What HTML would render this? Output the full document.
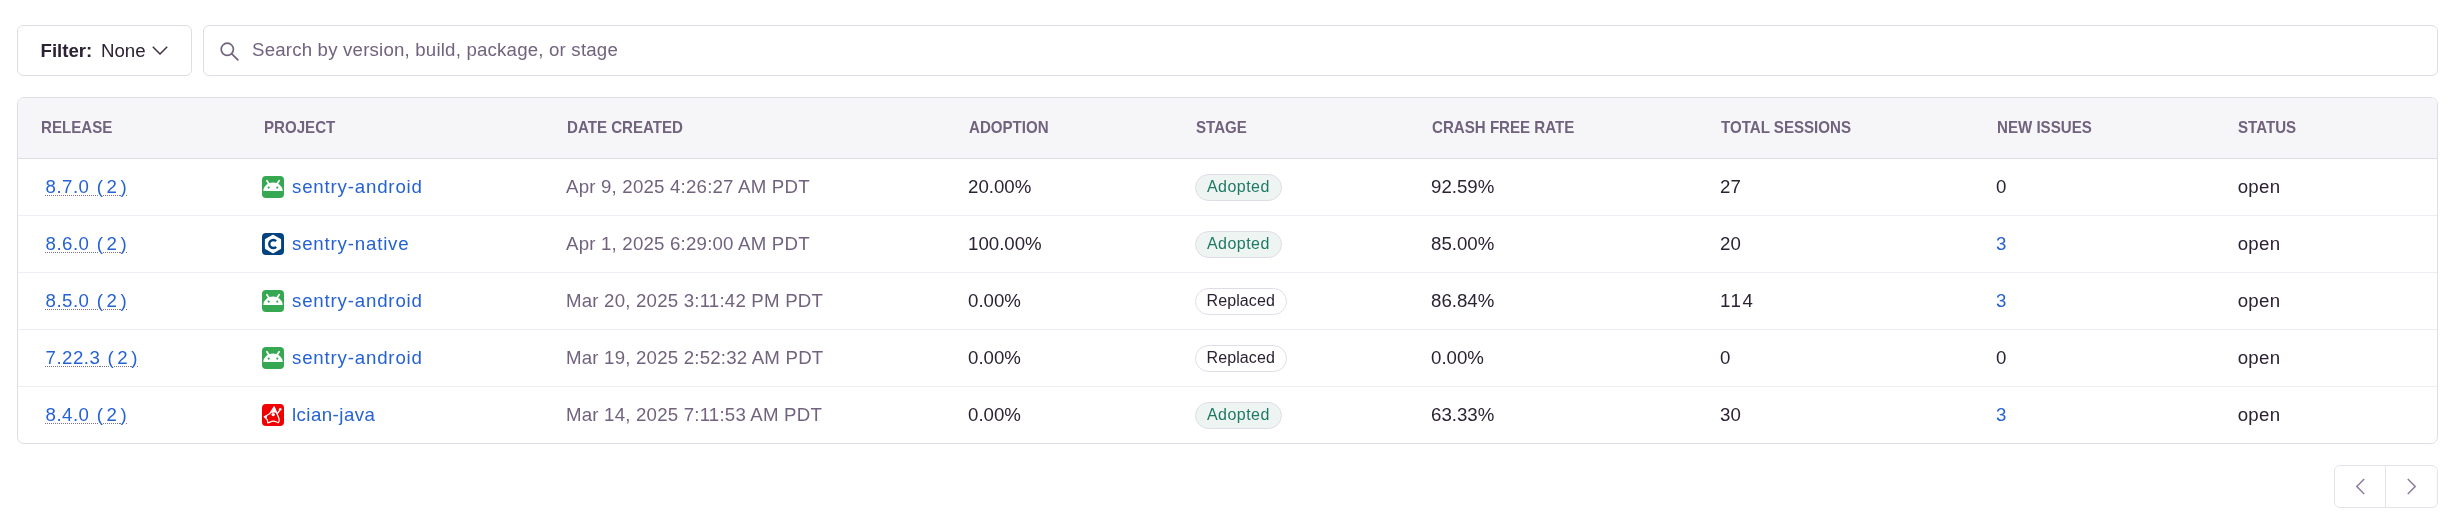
<!DOCTYPE html>
<html>
<head>
<meta charset="utf-8">
<style>
html,body{margin:0;padding:0;background:#fff;}
body{width:2460px;height:532px;position:relative;overflow:hidden;font-family:"Liberation Sans",sans-serif;color:#2B2233;}
#wrap{position:absolute;left:0;top:0;width:2460px;height:532px;will-change:transform;}
.abs{position:absolute;white-space:nowrap;}
.t{position:absolute;white-space:nowrap;font-size:18.67px;line-height:18.67px;}
.btn{position:absolute;box-sizing:border-box;border:1px solid #E0DCE5;border-radius:6px;background:#fff;}
.panel{position:absolute;left:17px;top:97px;width:2421px;height:347px;box-sizing:border-box;border:1px solid #E0DCE5;border-radius:7px;overflow:hidden;}
.hdr{position:absolute;left:0;top:0;right:0;height:60px;background:#F6F5F8;border-bottom:1px solid #E0DCE5;}
.h{position:absolute;top:21px;font-size:16.5px;line-height:16.5px;font-weight:700;color:#71637E;white-space:nowrap;transform:scaleX(0.915);transform-origin:0 0;}
.sep{position:absolute;left:0;right:0;height:1px;background:#F0ECF3;}
.link{color:#2562D4;}
.sub{color:#71637E;}
.badge{position:absolute;box-sizing:border-box;height:27px;border-radius:14px;border:1px solid #E0DCE5;font-size:16px;line-height:25px;white-space:nowrap;}
.ico{position:absolute;width:22px;height:22px;border-radius:4px;}
.rel{text-decoration:underline dotted #80708F;text-underline-offset:2px;text-decoration-thickness:1px;}
.adopted{background:#EDF4F1;color:#207964;}
.replaced{background:#fff;color:#2B2233;}
</style>
</head>
<body>
<div id="wrap">
<!-- Filter button -->
<div class="btn" style="left:17px;top:25px;width:175px;height:51px;"></div>
<div class="t" style="left:40.5px;top:41.8px;font-weight:700;">Filter:</div>
<div class="t" style="left:101px;top:41.8px;">None</div>
<svg class="abs" style="left:152px;top:46px" width="16" height="9" viewBox="0 0 16 9"><path d="M0.8 0.8 L8 8 L15.2 0.8" fill="none" stroke="#3E3446" stroke-width="1.5"/></svg>

<!-- Search -->
<div class="btn" style="left:203px;top:25px;width:2235px;height:51px;"></div>
<svg class="abs" style="left:220px;top:42px" width="19" height="19" viewBox="0 0 19 19"><circle cx="7.3" cy="7.3" r="6.1" fill="none" stroke="#71637E" stroke-width="1.7"/><path d="M11.8 11.8 L17.8 17.8" stroke="#71637E" stroke-width="1.7" stroke-linecap="round"/></svg>
<div class="t sub" style="left:252px;top:40.9px;letter-spacing:0.19px;">Search by version, build, package, or stage</div>

<!-- Panel -->
<div class="panel">
  <div class="hdr">
    <div class="h" style="left:23px">RELEASE</div>
    <div class="h" style="left:246px">PROJECT</div>
    <div class="h" style="left:549px">DATE CREATED</div>
    <div class="h" style="left:951px">ADOPTION</div>
    <div class="h" style="left:1178px">STAGE</div>
    <div class="h" style="left:1414px">CRASH FREE RATE</div>
    <div class="h" style="left:1703px">TOTAL SESSIONS</div>
    <div class="h" style="left:1979px">NEW ISSUES</div>
    <div class="h" style="left:2220px">STATUS</div>
  </div>
  <div class="sep" style="top:117px"></div>
  <div class="sep" style="top:174px"></div>
  <div class="sep" style="top:231px"></div>
  <div class="sep" style="top:288px"></div>
</div>

<div class="t link rel" style="left:45.5px;top:178.00px;"><span style="letter-spacing:0.5px">8.7.0</span><span style="letter-spacing:3.6px;word-spacing:-1.6px"> (2</span><span style="letter-spacing:2.2px">)</span></div>
<svg class="abs" style="left:262px;top:176px" width="22" height="22" viewBox="0 0 22 22"><rect width="22" height="22" rx="4" fill="#36A852"/><path d="M1.3 15 A9.7 8.4 0 0 1 20.7 15 Z" fill="#fff"/><path d="M4.9 4.7 L7.4 8.8 M17.1 4.7 L14.6 8.8" stroke="#fff" stroke-width="1.7" stroke-linecap="round"/><circle cx="6.7" cy="11.6" r="1.1" fill="#36A852"/><circle cx="15.3" cy="11.6" r="1.1" fill="#36A852"/></svg><div class="t link" style="left:292px;top:178.00px;letter-spacing:0.82px">sentry-android</div>
<div class="t sub" style="left:566px;top:178.00px;letter-spacing:0.2px">Apr 9, 2025 4:26:27 AM PDT</div>
<div class="t " style="left:968px;top:178.00px;">20.00%</div>
<div class="badge adopted" style="left:1195px;top:174px;width:87px;"><span style="position:absolute;left:11px;top:-1px;letter-spacing:0.45px">Adopted</span></div>
<div class="t " style="left:1431px;top:178.00px;">92.59%</div>
<div class="t " style="left:1720px;top:178.00px;">27</div>
<div class="t " style="left:1996px;top:178.00px;">0</div>
<div class="t " style="left:2237.7px;top:178.00px;letter-spacing:0.3px">open</div>
<div class="t link rel" style="left:45.5px;top:235.00px;"><span style="letter-spacing:0.5px">8.6.0</span><span style="letter-spacing:3.6px;word-spacing:-1.6px"> (2</span><span style="letter-spacing:2.2px">)</span></div>
<svg class="abs" style="left:262px;top:233px" width="22" height="22" viewBox="0 0 22 22"><rect width="22" height="22" rx="4" fill="#00427F"/><path d="M11 2.4 L18.4 6.7 L18.4 15.3 L11 19.6 L3.6 15.3 L3.6 6.7 Z" fill="#fff" stroke="#fff" stroke-width="1.4" stroke-linejoin="round"/><path d="M14.1 8.2 A4 4 0 1 0 14.1 13.8" fill="none" stroke="#00427F" stroke-width="2.4"/></svg><div class="t link" style="left:292px;top:235.00px;letter-spacing:0.82px">sentry-native</div>
<div class="t sub" style="left:566px;top:235.00px;letter-spacing:0.2px">Apr 1, 2025 6:29:00 AM PDT</div>
<div class="t " style="left:968px;top:235.00px;">100.00%</div>
<div class="badge adopted" style="left:1195px;top:231px;width:87px;"><span style="position:absolute;left:11px;top:-1px;letter-spacing:0.45px">Adopted</span></div>
<div class="t " style="left:1431px;top:235.00px;">85.00%</div>
<div class="t " style="left:1720px;top:235.00px;">20</div>
<div class="t link" style="left:1996px;top:235.00px;">3</div>
<div class="t " style="left:2237.7px;top:235.00px;letter-spacing:0.3px">open</div>
<div class="t link rel" style="left:45.5px;top:292.00px;"><span style="letter-spacing:0.5px">8.5.0</span><span style="letter-spacing:3.6px;word-spacing:-1.6px"> (2</span><span style="letter-spacing:2.2px">)</span></div>
<svg class="abs" style="left:262px;top:290px" width="22" height="22" viewBox="0 0 22 22"><rect width="22" height="22" rx="4" fill="#36A852"/><path d="M1.3 15 A9.7 8.4 0 0 1 20.7 15 Z" fill="#fff"/><path d="M4.9 4.7 L7.4 8.8 M17.1 4.7 L14.6 8.8" stroke="#fff" stroke-width="1.7" stroke-linecap="round"/><circle cx="6.7" cy="11.6" r="1.1" fill="#36A852"/><circle cx="15.3" cy="11.6" r="1.1" fill="#36A852"/></svg><div class="t link" style="left:292px;top:292.00px;letter-spacing:0.82px">sentry-android</div>
<div class="t sub" style="left:566px;top:292.00px;letter-spacing:0.2px">Mar 20, 2025 3:11:42 PM PDT</div>
<div class="t " style="left:968px;top:292.00px;">0.00%</div>
<div class="badge replaced" style="left:1195px;top:288px;width:92px;"><span style="position:absolute;left:10.5px;top:-1px;letter-spacing:0.1px">Replaced</span></div>
<div class="t " style="left:1431px;top:292.00px;">86.84%</div>
<div class="t " style="left:1720px;top:292.00px;letter-spacing:1.6px">114</div>
<div class="t link" style="left:1996px;top:292.00px;">3</div>
<div class="t " style="left:2237.7px;top:292.00px;letter-spacing:0.3px">open</div>
<div class="t link rel" style="left:45.5px;top:349.00px;"><span style="letter-spacing:0.5px">7.22.3</span><span style="letter-spacing:3.6px;word-spacing:-1.6px"> (2</span><span style="letter-spacing:2.2px">)</span></div>
<svg class="abs" style="left:262px;top:347px" width="22" height="22" viewBox="0 0 22 22"><rect width="22" height="22" rx="4" fill="#36A852"/><path d="M1.3 15 A9.7 8.4 0 0 1 20.7 15 Z" fill="#fff"/><path d="M4.9 4.7 L7.4 8.8 M17.1 4.7 L14.6 8.8" stroke="#fff" stroke-width="1.7" stroke-linecap="round"/><circle cx="6.7" cy="11.6" r="1.1" fill="#36A852"/><circle cx="15.3" cy="11.6" r="1.1" fill="#36A852"/></svg><div class="t link" style="left:292px;top:349.00px;letter-spacing:0.82px">sentry-android</div>
<div class="t sub" style="left:566px;top:349.00px;letter-spacing:0.2px">Mar 19, 2025 2:52:32 AM PDT</div>
<div class="t " style="left:968px;top:349.00px;">0.00%</div>
<div class="badge replaced" style="left:1195px;top:345px;width:92px;"><span style="position:absolute;left:10.5px;top:-1px;letter-spacing:0.1px">Replaced</span></div>
<div class="t " style="left:1431px;top:349.00px;">0.00%</div>
<div class="t " style="left:1720px;top:349.00px;">0</div>
<div class="t " style="left:1996px;top:349.00px;">0</div>
<div class="t " style="left:2237.7px;top:349.00px;letter-spacing:0.3px">open</div>
<div class="t link rel" style="left:45.5px;top:406.00px;"><span style="letter-spacing:0.5px">8.4.0</span><span style="letter-spacing:3.6px;word-spacing:-1.6px"> (2</span><span style="letter-spacing:2.2px">)</span></div>
<svg class="abs" style="left:262px;top:404px" width="22" height="22" viewBox="0 0 22 22"><rect width="22" height="22" rx="4" fill="#F20000"/><path d="M12.2 2.9 L16.9 14.2 C17.5 16 17.3 17.6 16.4 18.6 C14.8 18.2 13.2 17 11.2 17.1 C9.2 17.2 7.6 18.6 5.9 18.9 C5.4 17.8 5.6 16.6 5.2 15.6 L2.3 12.8 L7.6 9.8 Z" fill="none" stroke="#fff" stroke-width="1.25" stroke-linejoin="round"/><path d="M12.2 2.6 L15 9 C13.2 8.2 11 8.2 8.9 9.2 Z" fill="#fff"/><circle cx="11.2" cy="10.6" r="1.7" fill="#fff"/><path d="M15.4 9.6 L18.4 5.4" stroke="#fff" stroke-width="1.3" stroke-linecap="round"/><circle cx="18.2" cy="5.2" r="1.3" fill="#fff"/><path d="M2.2 12.8 L5 11.6 L4.8 14.6 Z" fill="#fff"/></svg><div class="t link" style="left:292px;top:406.00px;letter-spacing:0.45px">lcian-java</div>
<div class="t sub" style="left:566px;top:406.00px;letter-spacing:0.2px">Mar 14, 2025 7:11:53 AM PDT</div>
<div class="t " style="left:968px;top:406.00px;">0.00%</div>
<div class="badge adopted" style="left:1195px;top:402px;width:87px;"><span style="position:absolute;left:11px;top:-1px;letter-spacing:0.45px">Adopted</span></div>
<div class="t " style="left:1431px;top:406.00px;">63.33%</div>
<div class="t " style="left:1720px;top:406.00px;">30</div>
<div class="t link" style="left:1996px;top:406.00px;">3</div>
<div class="t " style="left:2237.7px;top:406.00px;letter-spacing:0.3px">open</div>

<!-- Pagination -->
<div class="btn" style="left:2334px;top:465px;width:104px;height:43px;border-color:#E6E2EA"></div>
<div class="abs" style="left:2385px;top:465px;width:1px;height:43px;background:#E6E2EA"></div>
<svg class="abs" style="left:2355px;top:478px" width="11" height="17" viewBox="0 0 11 17"><path d="M9.2 1 L1.8 8.5 L9.2 16" fill="none" stroke="#8C7D9B" stroke-width="1.5"/></svg>
<svg class="abs" style="left:2406px;top:478px" width="11" height="17" viewBox="0 0 11 17"><path d="M1.8 1 L9.2 8.5 L1.8 16" fill="none" stroke="#8C7D9B" stroke-width="1.5"/></svg>

</div>
</body>
</html>
